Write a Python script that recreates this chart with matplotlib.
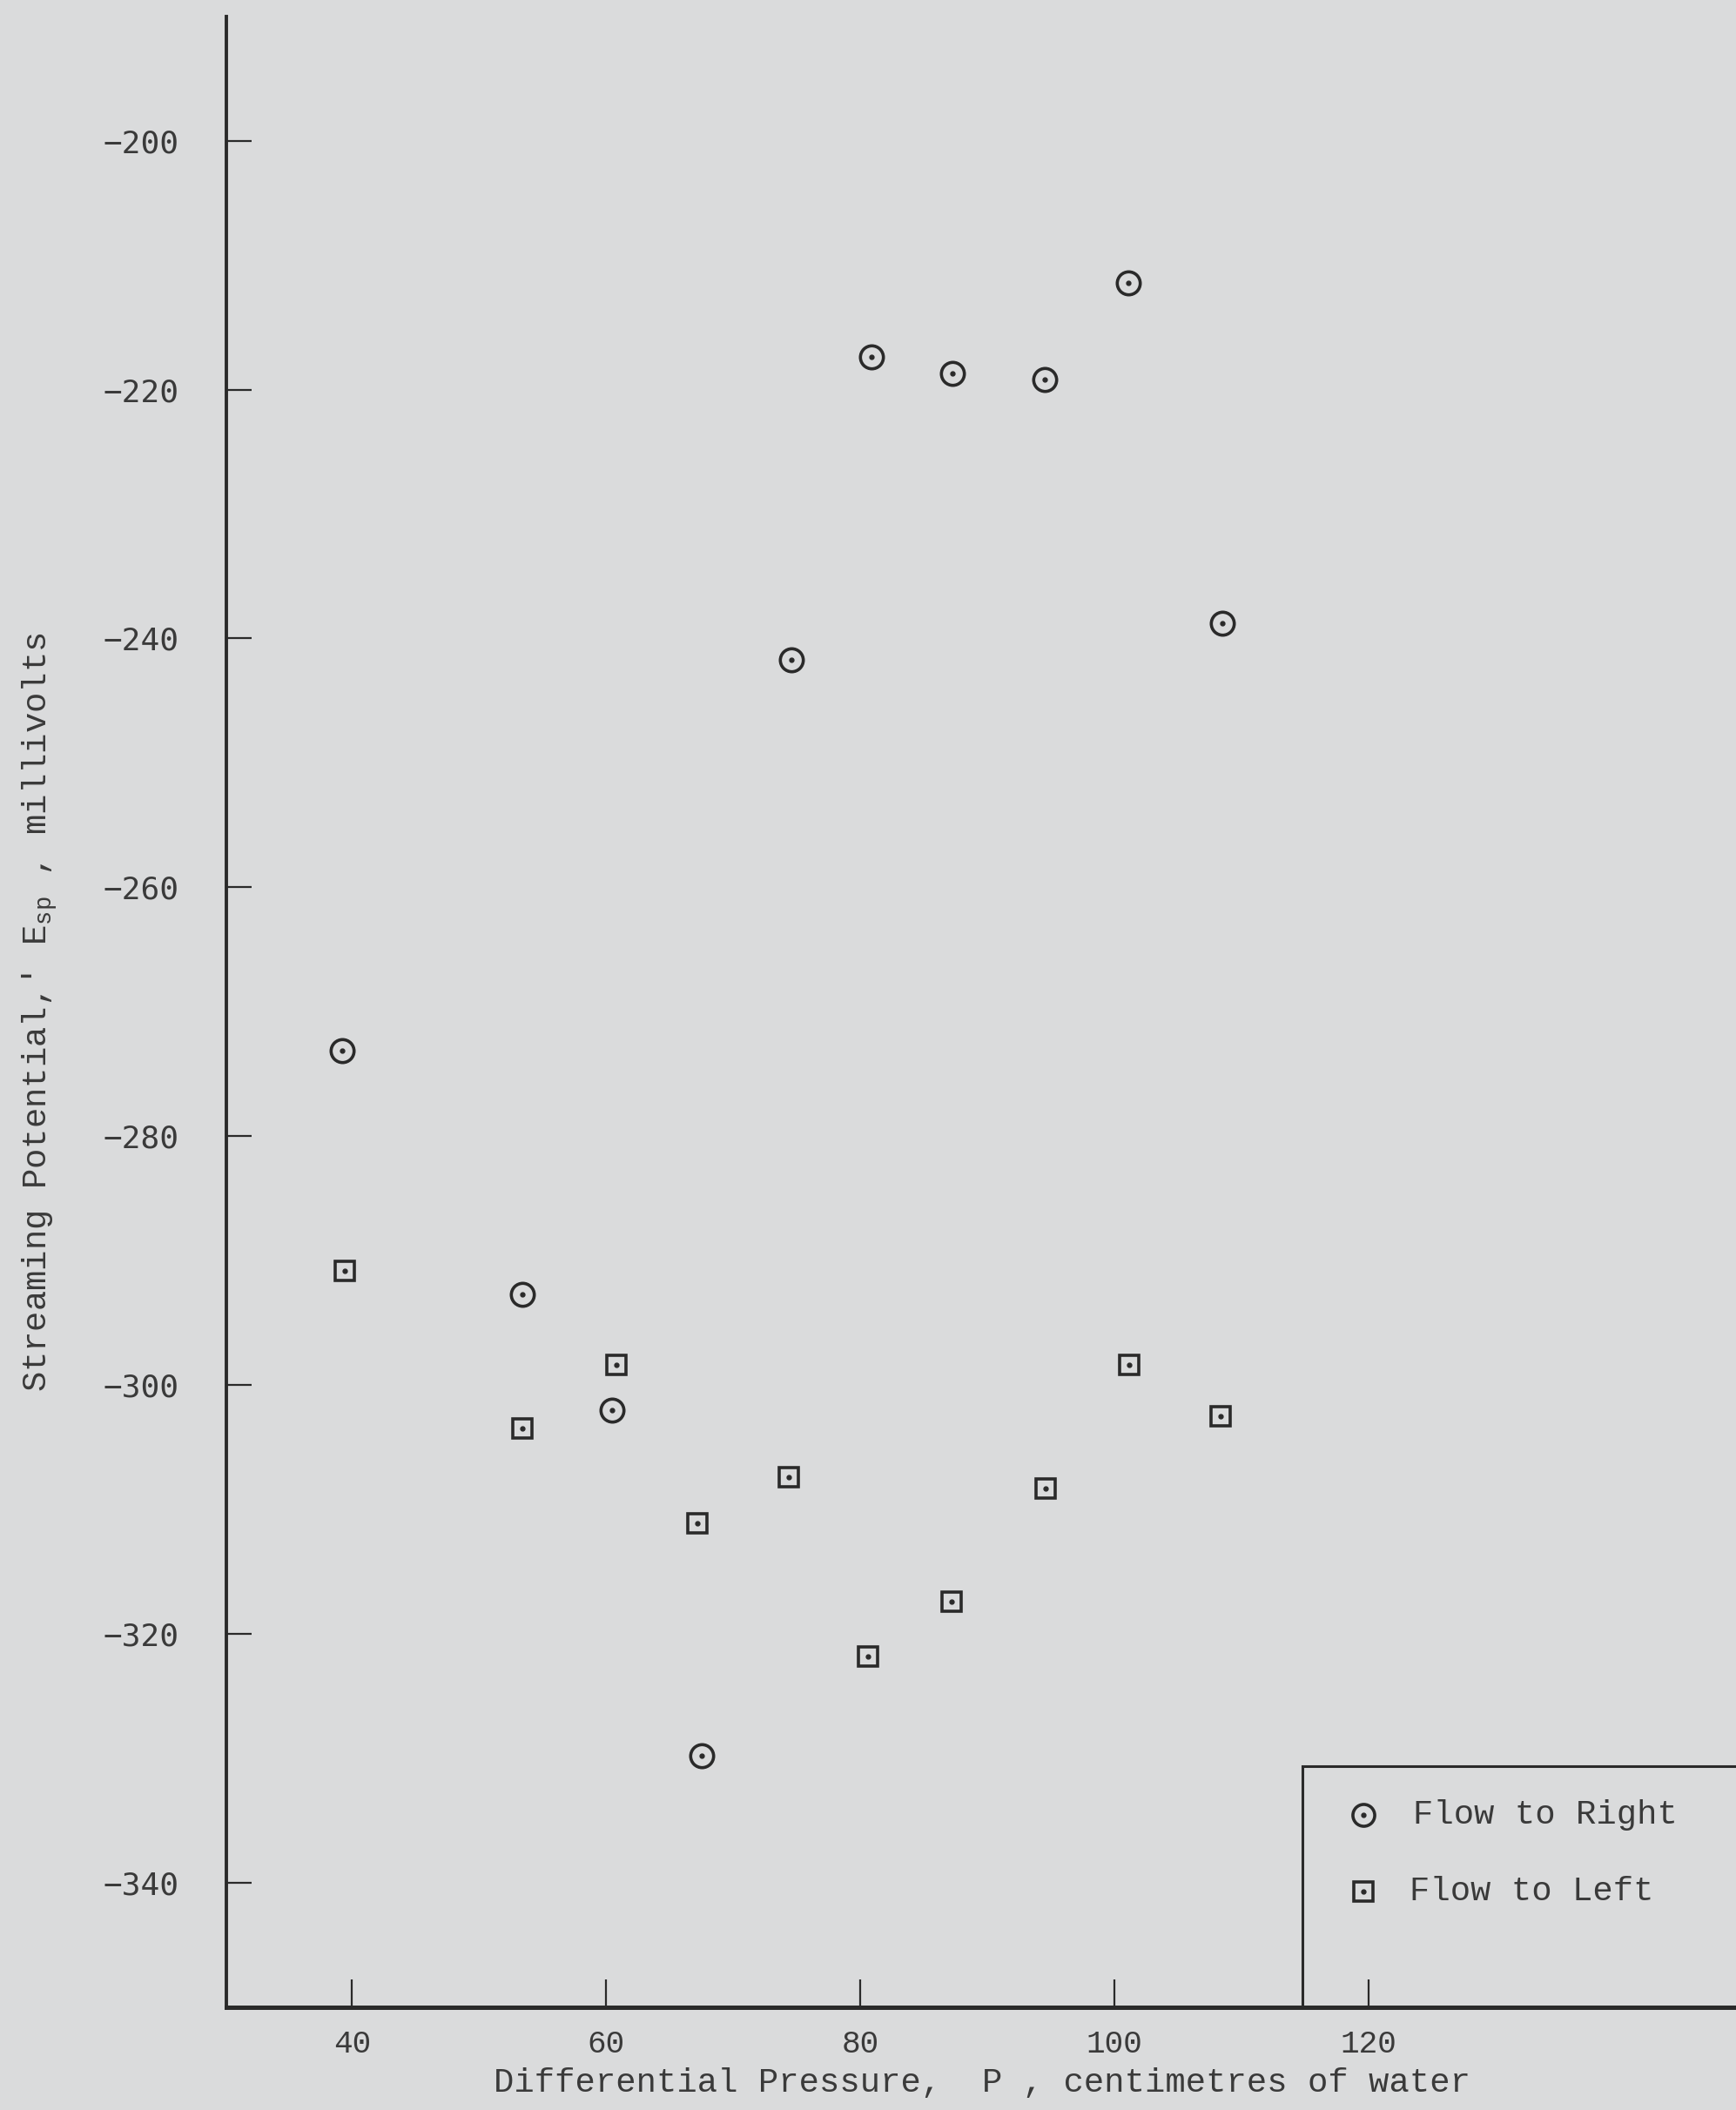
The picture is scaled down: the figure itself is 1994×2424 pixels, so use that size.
import matplotlib
matplotlib.use("Agg")
import matplotlib.pyplot as plt

# ---- data ----
series_names = ["Flow to Right", "Flow to Left"]
right_pressure = [39.2, 53.4, 60.5, 67.5, 74.6, 80.9, 87.3, 94.5, 101.1, 108.5]
right_potential = [-273.1, -292.7, -302.0, -329.8, -241.7, -217.4, -218.7, -219.2, -211.4, -238.8]
left_pressure = [39.4, 53.4, 60.8, 67.2, 74.4, 80.6, 87.2, 94.6, 101.2, 108.4]
left_potential = [-290.8, -303.5, -298.4, -311.1, -307.4, -321.8, -317.4, -308.3, -298.4, -302.5]
x_ticks = [40, 60, 80, 100, 120]
y_ticks = [-200, -220, -240, -260, -280, -300, -320, -340]

BG = "#dadbdc"
INK = "#2a2a2a"
TXT = "#3a3a3a"

plt.rcParams["mathtext.fontset"] = "custom"
plt.rcParams["mathtext.rm"] = "Liberation Mono"
plt.rcParams["mathtext.it"] = "Liberation Mono"

fig = plt.figure(figsize=(19.94, 24.24), dpi=100, facecolor=BG)
ax = fig.add_axes([0.1303, 0.0487, 0.8697, 0.9436], facecolor=BG)
ax.set_xlim(30.1, 148.95)
ax.set_ylim(-350.0, -190.0)

for s in ["top", "right"]:
    ax.spines[s].set_visible(False)
ax.spines["left"].set_linewidth(2.8)
ax.spines["bottom"].set_linewidth(3.6)
ax.spines["left"].set_color(INK)
ax.spines["bottom"].set_color(INK)

ax.set_xticks(x_ticks)
ax.set_yticks(y_ticks)
ax.tick_params(axis="y", direction="in", length=21, width=1.6, color=INK, pad=39,
               labelsize=26, labelcolor=TXT)
ax.tick_params(axis="x", direction="in", length=23, width=1.6, color=INK, pad=18,
               labelsize=26, labelcolor=TXT)
for lab in ax.get_yticklabels():
    lab.set_family("DejaVu Sans Mono")
for lab in ax.get_xticklabels():
    lab.set_family("Liberation Mono")

styles = [dict(marker="o", ms=19), dict(marker="s", ms=16.5)]
datasets = [(right_pressure, right_potential), (left_pressure, left_potential)]
for (xs, ys), st in zip(datasets, styles):
    ax.plot(xs, ys, linestyle="none", marker=st["marker"], ms=st["ms"],
            mfc="none", mec=INK, mew=2.6)
    ax.plot(xs, ys, linestyle="none", marker="o", ms=3.5, mfc=INK, mec=INK)

# legend box (left and top edges)
box_x, box_y = 114.8, -330.6
ax.plot([box_x, box_x], [-350.0, box_y], color=INK, lw=2.2, solid_capstyle="butt")
ax.plot([box_x, 148.95], [box_y, box_y], color=INK, lw=2.2, clip_on=False)

leg_rows = [0.0966, 0.058]
text_x = [0.786, 0.784]
for name, st, yy, tx in zip(series_names, styles, leg_rows, text_x):
    ax.plot([0.753], [yy], transform=ax.transAxes, linestyle="none",
            marker=st["marker"], ms=st["ms"] * 0.95, mfc="none", mec=INK, mew=2.6)
    ax.plot([0.753], [yy], transform=ax.transAxes, linestyle="none",
            marker="o", ms=3.5, mfc=INK, mec=INK)
    ax.text(tx, yy, name, transform=ax.transAxes, ha="left", va="center",
            fontsize=28, family="Liberation Mono", color=TXT)

fig.text(1128 / 1994, 1 - 2393 / 2424, "Differential Pressure,  P , centimetres of water",
         ha="center", va="center", fontsize=28, family="Liberation Mono", color=TXT)
fig.text(46 / 1994, 1 - 1163 / 2424,
         r"Streaming Potential,' E$_{\mathrm{sp}}$ , millivolts",
         ha="center", va="center", rotation=90, fontsize=28,
         family="Liberation Mono", color=TXT)

fig.savefig("out.png", dpi=100, facecolor=BG)
